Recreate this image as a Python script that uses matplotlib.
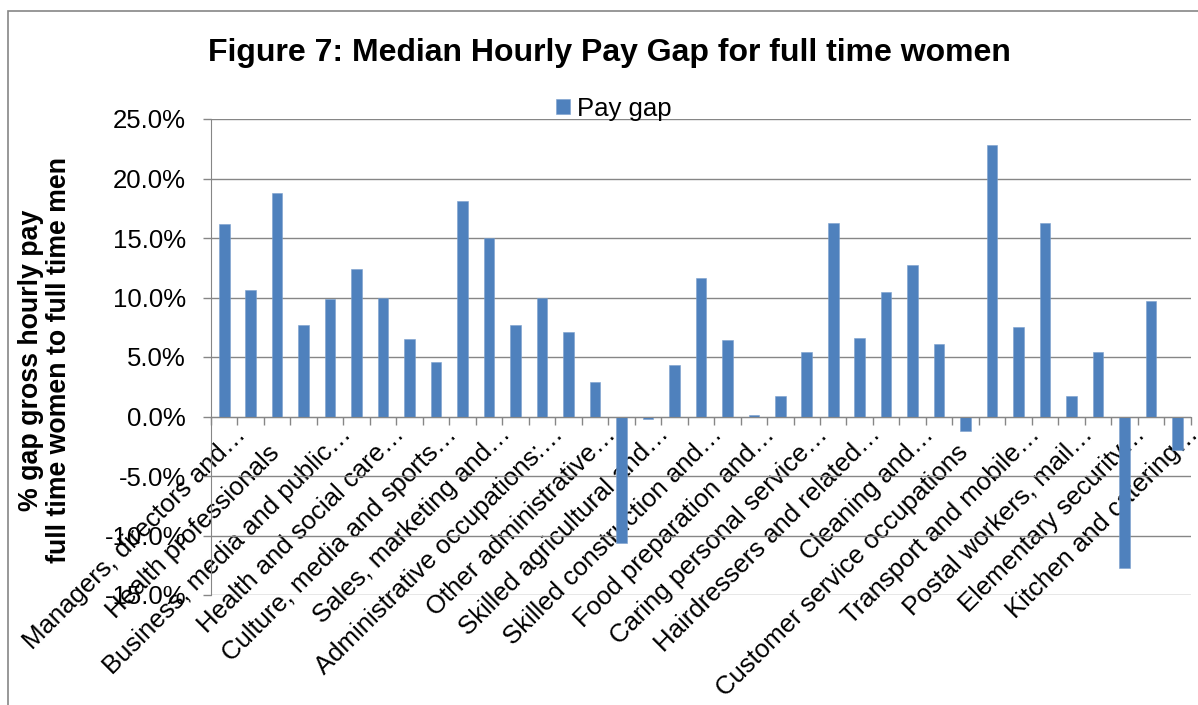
import numpy as np
import matplotlib
matplotlib.use("Agg")
import matplotlib.pyplot as plt
from matplotlib.patches import Rectangle
from matplotlib.ticker import FuncFormatter
from matplotlib.transforms import ScaledTranslation

plt.rcParams['font.family'] = ['Liberation Sans', 'DejaVu Sans']

# median hourly pay gap (%), one value per occupation group
pay_gap = [16.2, 10.6, 18.8, 7.7, 9.9, 12.4, 10.0, 6.5, 4.6, 18.1,
           15.0, 7.7, 10.0, 7.1, 2.9, -10.6, -0.2, 4.3, 11.6, 6.4,
           0.1, 1.7, 5.4, 16.3, 6.6, 10.5, 12.7, 6.1, -1.2, 22.8,
           7.5, 16.3, 1.7, 5.4, -12.7, 9.7, -2.8]

# Excel only shows every other category label
shown_labels = ["Managers, directors and…", "Health professionals",
                "Business, media and public…", "Health and social care…",
                "Culture, media and sports…", "Sales, marketing and…",
                "Administrative occupations:…", "Other administrative…",
                "Skilled agricultural and…", "Skilled construction and…",
                "Food preparation and…", "Caring personal service…",
                "Hairdressers and related…", "Cleaning and…",
                "Customer service occupations", "Transport and mobile…",
                "Postal workers, mail…", "Elementary security…",
                "Kitchen and catering…"]

yticks = [-15, -10, -5, 0, 5, 10, 15, 20, 25]

blue = '#4F81BD'
grey = '#868686'

fig = plt.figure(figsize=(11.98, 7.05), dpi=100)
ax = fig.add_axes([211/1198, 1-595/705, (1190.7-211)/1198, (595-119)/705])

x = np.arange(len(pay_gap))
bars = ax.bar(x, pay_gap, width=0.4, color=blue, edgecolor='#7BA0CD', linewidth=0.4, label='Pay gap')

ax.set_xlim(-0.5, len(pay_gap) - 0.5)
ax.set_ylim(-15, 25)
ax.set_yticks(yticks)
ax.yaxis.set_major_formatter(FuncFormatter(lambda v, p: f"{v:.1f}%"))
ax.grid(axis='y', color=grey, linewidth=1.0)
ax.set_axisbelow(True)

for s in ['top', 'right']:
    ax.spines[s].set_visible(False)
ax.spines['left'].set_color(grey)
ax.spines['bottom'].set_color(grey)
ax.spines['bottom'].set_position(('data', 0))

ax.tick_params(axis='y', direction='out', length=6, width=1.0, color=grey,
               labelsize=18.5, pad=12)

ax.set_xticks(x[::2])
ax.set_xticklabels(shown_labels, rotation=45, ha='right', va='top',
                   rotation_mode='anchor', fontsize=18.5)
ax.set_xticks(np.arange(len(pay_gap) + 1) - 0.5, minor=True)
ax.tick_params(axis='x', which='major', length=0, pad=4)
ax.tick_params(axis='x', which='minor', direction='out', length=6, width=1.0, color=grey)
# truncated labels let the ellipsis run past the anchor; full labels sit one em lower
for lab in ax.get_xticklabels():
    if lab.get_text().endswith("…"):
        shift = ScaledTranslation(0.09, 0, fig.dpi_scale_trans)
    else:
        shift = ScaledTranslation(0.09 - 0.185, -0.185, fig.dpi_scale_trans)
    lab.set_transform(lab.get_transform() + shift)

ax.legend(handles=[bars], loc='center', bbox_to_anchor=(614/1198, 1-109/705),
          bbox_transform=fig.transFigure, frameon=False, fontsize=18.5,
          handlelength=0.52, handleheight=0.52, handletextpad=0.3, borderpad=0)

fig.text(609/1198, 1-61/705, "Figure 7: Median Hourly Pay Gap for full time women",
         ha='center', va='baseline', fontsize=23, fontweight='bold')
fig.text(45/1198, 1-360/705, "% gap gross hourly pay\nfull time women to full time men",
         rotation=90, ha='center', va='center', multialignment='center',
         fontsize=19.3, fontweight='bold', linespacing=1.1)

fig.add_artist(Rectangle((8/1198, -0.1), 1.2, 1-11/705+0.1, transform=fig.transFigure,
                         fill=False, edgecolor=grey, linewidth=1.2))

fig.savefig('out.png', dpi=100)
